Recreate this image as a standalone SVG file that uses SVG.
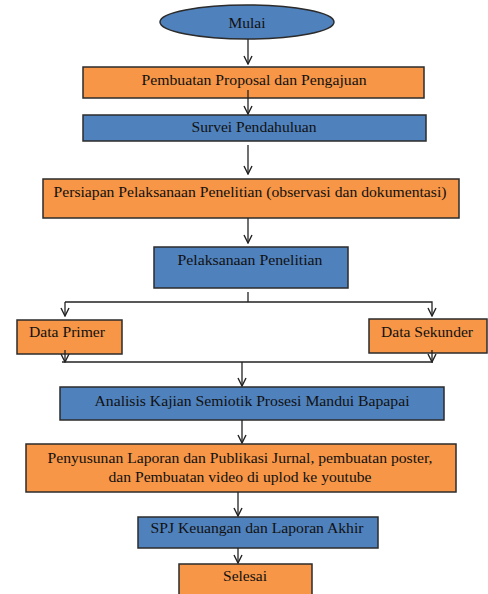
<svg xmlns="http://www.w3.org/2000/svg" width="488" height="594" viewBox="0 0 488 594">
<defs>
<marker id="ah" viewBox="0 0 10 10" refX="9" refY="5" markerWidth="10" markerHeight="10" markerUnits="userSpaceOnUse" orient="auto">
<polyline points="1,1 9,5 1,9" fill="none" stroke="#222" stroke-width="1.4"/>
</marker>
<style>
.o{fill:#F79646;stroke:#2b2b2b;stroke-width:1.5}
.b{fill:#4F81BD;stroke:#2b2b2b;stroke-width:1.5}
text{font-family:"Liberation Serif","DejaVu Serif",serif;font-size:15px;fill:#111;text-anchor:middle}
.c line,.c polyline{stroke:#222;stroke-width:1.3;fill:none}
</style>
</defs>
<rect width="488" height="594" fill="#fff"/>
<g id="mulai"><ellipse class="b" cx="247" cy="22" rx="87" ry="17"/><text x="247" y="28" textLength="37" lengthAdjust="spacingAndGlyphs">Mulai</text></g>
<g id="proposal"><rect class="o" x="83" y="67" width="341" height="31"/><text x="254" y="85" textLength="225" lengthAdjust="spacingAndGlyphs">Pembuatan Proposal dan Pengajuan</text></g>
<g id="survei"><rect class="b" x="83" y="115" width="343" height="26"/><text x="254" y="132" textLength="125" lengthAdjust="spacingAndGlyphs">Survei Pendahuluan</text></g>
<g id="persiapan"><rect class="o" x="43" y="179" width="416" height="39"/><text x="250" y="197" textLength="393" lengthAdjust="spacingAndGlyphs">Persiapan Pelaksanaan Penelitian (observasi dan dokumentasi)</text></g>
<g id="pelaksanaan"><rect class="b" x="154" y="247" width="194" height="41"/><text x="250" y="265" textLength="145" lengthAdjust="spacingAndGlyphs">Pelaksanaan Penelitian</text></g>
<g id="primer"><rect class="o" x="17" y="320" width="105" height="34"/><text x="67" y="337" textLength="76" lengthAdjust="spacingAndGlyphs">Data Primer</text></g>
<g id="sekunder"><rect class="o" x="369" y="319" width="118" height="34"/><text x="427" y="337" textLength="92" lengthAdjust="spacingAndGlyphs">Data Sekunder</text></g>
<g id="analisis"><rect class="b" x="60" y="387" width="384" height="33"/><text x="252" y="406" textLength="315" lengthAdjust="spacingAndGlyphs">Analisis Kajian Semiotik Prosesi Mandui Bapapai</text></g>
<g id="penyusunan"><rect class="o" x="26" y="444" width="430" height="48"/><text x="240" y="463" textLength="385" lengthAdjust="spacingAndGlyphs">Penyusunan Laporan dan Publikasi Jurnal, pembuatan poster,</text><text x="240" y="482" textLength="263" lengthAdjust="spacingAndGlyphs">dan Pembuatan video di uplod ke youtube</text></g>
<g id="spj"><rect class="b" x="138" y="517" width="240" height="31"/><text x="257" y="533" textLength="213" lengthAdjust="spacingAndGlyphs">SPJ Keuangan dan Laporan Akhir</text></g>
<g id="selesai"><rect class="o" x="179" y="564" width="133" height="34"/><text x="245" y="581" textLength="44" lengthAdjust="spacingAndGlyphs">Selesai</text></g>
<g id="connectors" class="c">
<line x1="248" y1="39" x2="248" y2="64" marker-end="url(#ah)"/>
<line x1="248" y1="90" x2="248" y2="114" marker-end="url(#ah)"/>
<line x1="248" y1="145" x2="248" y2="174" marker-end="url(#ah)"/>
<line x1="248" y1="218" x2="248" y2="243" marker-end="url(#ah)"/>
<line x1="248" y1="292" x2="248" y2="302"/>
<polyline points="65,302 432,302 432,316" marker-end="url(#ah)"/>
<line x1="65" y1="302" x2="65" y2="316" marker-end="url(#ah)"/>
<line x1="65" y1="350" x2="65" y2="362" marker-end="url(#ah)"/>
<line x1="432" y1="350" x2="432" y2="362" marker-end="url(#ah)"/>
<line x1="62" y1="362" x2="433" y2="362"/>
<line x1="242" y1="362" x2="242" y2="386" marker-end="url(#ah)"/>
<line x1="242" y1="420" x2="242" y2="443" marker-end="url(#ah)"/>
<line x1="238" y1="492" x2="238" y2="516" marker-end="url(#ah)"/>
<line x1="238" y1="548" x2="238" y2="563" marker-end="url(#ah)"/>
</g>
</svg>
